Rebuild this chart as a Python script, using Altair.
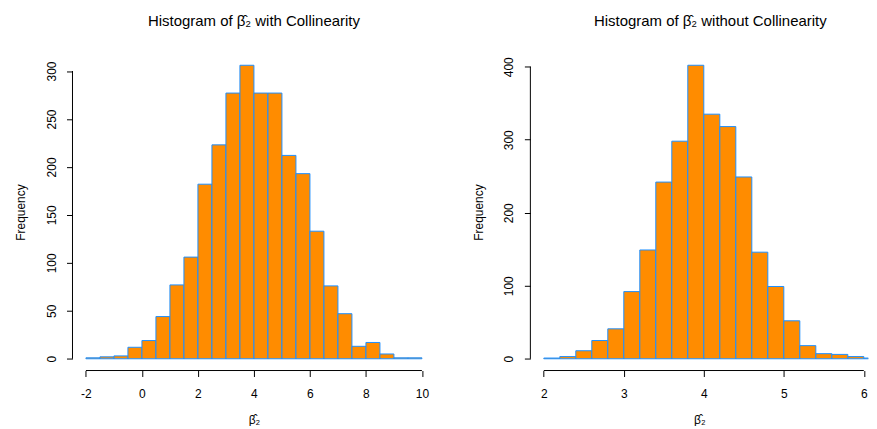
import altair as alt
import pandas as pd

# ---- data ----
left_breaks = [-2.0, -1.5, -1.0, -0.5, 0.0, 0.5, 1.0, 1.5, 2.0, 2.5, 3.0, 3.5, 4.0,
               4.5, 5.0, 5.5, 6.0, 6.5, 7.0, 7.5, 8.0, 8.5, 9.0, 9.5, 10.0]
left_counts = [1, 2, 3, 12, 19, 44, 77, 106, 182, 223, 277, 306, 277, 277, 212, 193,
               133, 76, 47, 13, 17, 5, 1, 1]

right_breaks = [2.0, 2.2, 2.4, 2.6, 2.8, 3.0, 3.2, 3.4, 3.6, 3.8, 4.0, 4.2, 4.4, 4.6,
                4.8, 5.0, 5.2, 5.4, 5.6, 5.8, 6.0, 6.2]
right_counts = [1, 3, 11, 25, 41, 92, 149, 242, 298, 402, 335, 318, 249, 146, 99, 52,
                18, 7, 6, 3, 1]

left_xticks = [-2, 0, 2, 4, 6, 8, 10]
left_yticks = [0, 50, 100, 150, 200, 250, 300]
right_xticks = [2, 3, 4, 5, 6]
right_yticks = [0, 100, 200, 300, 400]

left_title = "Histogram of β̂₂ with Collinearity"
right_title = "Histogram of β̂₂ without Collinearity"
x_title = "β̂₂"
y_title = "Frequency"

FONT = "Liberation Sans"
FILL = "#FF8C00"
EDGE = "#1E90FF"
AXIS = "#000000"


def panel(breaks, counts, xticks, yticks, xdom, ydom, width, height, title, title_dx):
    df = pd.DataFrame({"start": breaks[:-1], "end": breaks[1:], "count": counts})
    df["zero"] = 0
    xscale = alt.Scale(domain=xdom, nice=False, zero=False)
    yscale = alt.Scale(domain=ydom, nice=False, zero=False)
    xaxis = alt.Axis(values=xticks, domain=False, grid=False, ticks=True,
                     tickSize=6, tickColor=AXIS, tickWidth=1,
                     labelPadding=12, labelFont=FONT, labelFontSize=12,
                     labelColor=AXIS, labelFlush=False, labelOverlap=False,
                     labelExpr="'' + datum.value",
                     title=x_title, titleFont=FONT, titleFontSize=12,
                     titleFontWeight="normal", titleColor=AXIS,
                     titleBaseline="alphabetic", titleY=53,
                     titleX=width / 2, titleAlign="center")
    yaxis = alt.Axis(values=yticks, domain=False, grid=False, ticks=True,
                     tickSize=6, tickColor=AXIS, tickWidth=1,
                     labelAngle=270, labelAlign="center", labelBaseline="bottom",
                     labelPadding=8.5, labelFont=FONT,
                     labelFontSize=12, labelColor=AXIS, labelFlush=False,
                     labelOverlap=False,
                     title=y_title, titleFont=FONT, titleFontSize=12,
                     titleFontWeight="normal", titleColor=AXIS,
                     titleAngle=270, titleX=-52, titleY=height / 2,
                     titleAlign="center", titleBaseline="middle")
    bars = alt.Chart(df).mark_rect(fill=FILL, stroke=EDGE, strokeWidth=1, clip=True).encode(
        x=alt.X("start:Q", scale=xscale, axis=xaxis),
        x2="end:Q",
        y=alt.Y("count:Q", scale=yscale, axis=yaxis),
        y2="zero:Q",
    )
    xr = pd.DataFrame({"a": [xticks[0]], "b": [xticks[-1]]})
    yr = pd.DataFrame({"a": [yticks[0]], "b": [yticks[-1]]})
    xrule = alt.Chart(xr).mark_rule(color=AXIS, strokeWidth=1).encode(
        x=alt.X("a:Q", scale=xscale, axis=xaxis),
        x2="b:Q",
        y=alt.value(height),
    )
    yrule = alt.Chart(yr).mark_rule(color=AXIS, strokeWidth=1).encode(
        y=alt.Y("a:Q", scale=yscale, axis=yaxis),
        y2="b:Q",
        x=alt.value(0),
    )
    return alt.layer(bars, xrule, yrule).properties(
        width=width, height=height,
        title=alt.Title(title, font=FONT, fontSize=15, fontWeight="normal",
                        color=AXIS, anchor="middle", frame="group",
                        baseline="alphabetic", offset=12.7, dx=title_dx),
    )


left = panel(left_breaks, left_counts, left_xticks, left_yticks,
             [-2.48, 10.48], [-12.24, 318.24], 364, 318, left_title, 0)
right = panel(right_breaks, right_counts, right_xticks, right_yticks,
              [1.832, 6.056], [-16.08, 418.08], 339, 318, right_title, 11)

chart = alt.hconcat(left, right, spacing=95.3, bounds="flush").properties(
    padding={"left": 6.7, "top": 5, "right": 0, "bottom": 0},
    background="white",
).configure_view(stroke=None)

chart.save("out.html", embed_options={"renderer": "svg", "actions": False})
